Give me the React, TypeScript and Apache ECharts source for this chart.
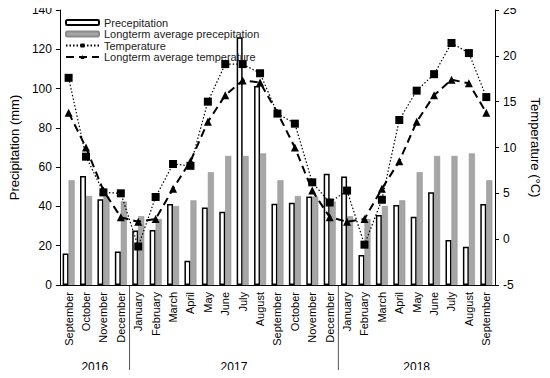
import React, { useEffect, useRef } from "react";
import * as echarts from "echarts";

const months = [
  "September", "October", "November", "December",
  "January", "February", "March", "April", "May", "June", "July", "August",
  "September", "October", "November", "December",
  "January", "February", "March", "April", "May", "June", "July", "August", "September",
];

const precipitation = [
  16.1, 55.5, 43.6, 17.0,
  27.7, 28.0, 41.2, 12.4, 39.4, 37.3, 126.1, 101.3, 41.4, 41.9, 45.0, 56.7,
  55.2, 15.3, 35.6, 40.7, 34.8, 47.2, 22.9, 19.5, 41.2,
];

const longtermPrecipitation = [
  53.3, 45.3, 45.0, 42.5,
  35.0, 33.6, 40.2, 43.1, 57.4, 65.7, 65.7, 67.0, 53.3, 45.3, 45.0, 42.5,
  35.0, 33.6, 40.2, 43.1, 57.4, 65.7, 65.7, 67.0, 53.3,
];

const temperature = [
  17.6, 9.0, 5.1, 5.0,
  -0.8, 4.6, 8.2, 8.0, 15.0, 19.1, 19.1, 18.1, 13.7, 12.6, 6.2, 4.0,
  5.3, -0.6, 4.3, 13.0, 16.2, 18.0, 21.4, 20.3, 15.5,
];

const longtermTemperature = [
  13.8, 10.0, 5.3, 2.4,
  1.9, 2.2, 5.5, 8.5, 12.8, 15.7, 17.3, 17.1, 13.8, 10.0, 5.3, 2.4,
  1.9, 2.2, 5.5, 8.5, 12.8, 15.7, 17.4, 17.0, 13.8,
];

const years = [
  { label: "2016", start: 0, end: 4 },
  { label: "2017", start: 4, end: 16 },
  { label: "2018", start: 16, end: 25 },
];

const FONT = "'Liberation Sans', Arial, sans-serif";

export default function App() {
  const ref = useRef<HTMLDivElement>(null);

  useEffect(() => {
    if (!ref.current) return;
    const chart = echarts.init(ref.current, undefined, { renderer: "svg" });
    const option: any = {
      animation: false,
      backgroundColor: "#fff",
      textStyle: { fontFamily: FONT, color: "#000" },
      grid: { left: 56, right: 54, top: 10, bottom: 93 },
      legend: {
        orient: "vertical",
        left: 60,
        top: 12,
        itemWidth: 33,
        itemHeight: 5,
        itemGap: 0.5,
        textStyle: { fontSize: 11, color: "#222", fontFamily: FONT },
        data: [
          "Precepitation",
          "Longterm average precepitation",
          "Temperature",
          "Longterm average temperature",
        ],
      },
      xAxis: {
        type: "category",
        data: months,
        axisLine: { lineStyle: { color: "#000", width: 1 } },
        axisTick: { show: false },
        axisLabel: {
          interval: 0,
          rotate: 90,
          fontSize: 11,
          margin: 7,
          color: "#000",
          fontFamily: FONT,
        },
      },
      yAxis: [
        {
          type: "value",
          min: 0,
          max: 140,
          interval: 20,
          name: "Precipitation (mm)",
          nameLocation: "middle",
          nameGap: 38,
          nameTextStyle: { fontSize: 13, color: "#000", fontFamily: FONT },
          axisLine: { show: true, lineStyle: { color: "#000", width: 1 } },
          axisTick: { show: true, length: 4, lineStyle: { color: "#000" } },
          axisLabel: { fontSize: 12, color: "#000", margin: 8, fontFamily: FONT },
          splitLine: { show: false },
        },
        {
          type: "value",
          min: -5,
          max: 25,
          interval: 5,
          name: "Temperature (°C)",
          nameLocation: "middle",
          nameGap: 34,
          nameRotate: -90,
          nameTextStyle: { fontSize: 13, color: "#000", fontFamily: FONT },
          axisLine: { show: true, lineStyle: { color: "#000", width: 1 } },
          axisTick: { show: true, length: 4, lineStyle: { color: "#000" } },
          axisLabel: { fontSize: 12, color: "#000", margin: 8, fontFamily: FONT },
          splitLine: { show: false },
        },
      ],
      series: [
        {
          name: "Precepitation",
          type: "bar",
          data: precipitation,
          barWidth: 6,
          barGap: "0%",
          itemStyle: { color: "#fff", borderColor: "#000", borderWidth: 1.5 },
        },
        {
          name: "Longterm average precepitation",
          type: "bar",
          data: longtermPrecipitation,
          barWidth: 6,
          barGap: "0%",
          itemStyle: { color: "#a6a6a6", borderColor: "#8a8a8a", borderWidth: 0.5 },
        },
        {
          name: "Temperature",
          type: "line",
          yAxisIndex: 1,
          data: temperature,
          symbol: "rect",
          symbolSize: 8,
          itemStyle: { color: "#000" },
          lineStyle: { color: "#000", width: 1.2, type: [1.5, 2] },
          z: 4,
        },
        {
          name: "Longterm average temperature",
          type: "line",
          yAxisIndex: 1,
          data: longtermTemperature,
          symbol: "triangle",
          symbolSize: 8,
          itemStyle: { color: "#000" },
          lineStyle: { color: "#000", width: 2, type: [8, 5] },
          z: 3,
        },
      ],
    };
    chart.setOption(option);

    const x0 = chart.convertToPixel({ xAxisIndex: 0 }, 0) as number;
    const x1 = chart.convertToPixel({ xAxisIndex: 0 }, 1) as number;
    const band = x1 - x0;
    const yBase = chart.convertToPixel({ yAxisIndex: 0 }, 0) as number;
    const boundary = (i: number) => x0 - band / 2 + band * i;
    const graphics: any[] = [];
    years.forEach((y, i) => {
      graphics.push({
        type: "text",
        x: (boundary(y.start) + boundary(y.end)) / 2,
        y: yBase + 82,
        style: {
          text: y.label,
          fontSize: 12,
          fontFamily: FONT,
          fill: "#000",
          align: "center",
          verticalAlign: "middle",
        },
      });
      if (i > 0) {
        graphics.push({
          type: "line",
          shape: {
            x1: boundary(y.start),
            y1: yBase,
            x2: boundary(y.start),
            y2: yBase + 89,
          },
          style: { stroke: "#555", lineWidth: 1 },
        });
      }
    });
    chart.setOption({ graphic: graphics });

    return () => chart.dispose();
  }, []);

  return <div ref={ref} style={{ width: 550, height: 378, margin: -8 }} />;
}
